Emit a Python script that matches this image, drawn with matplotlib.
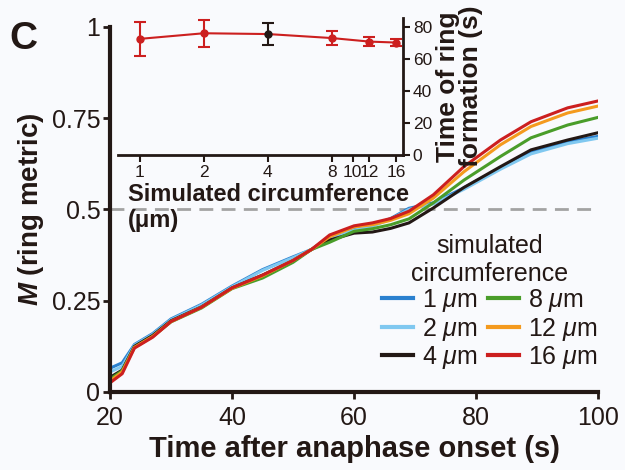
import matplotlib
matplotlib.use("Agg")
from matplotlib import pyplot as plt
import numpy as np

plt.rcParams['font.family'] = ['Liberation Sans', 'DejaVu Sans']
plt.rcParams['mathtext.fontset'] = 'custom'
plt.rcParams['mathtext.it'] = 'Liberation Sans:italic'
plt.rcParams['mathtext.bf'] = 'Liberation Sans:bold:italic'

# %% main curves: M (ring metric) vs time after anaphase onset
time_s = [20, 22, 24, 27, 30, 35, 40, 45, 50, 53, 56, 60, 63, 66, 69, 73, 78, 84, 89, 95, 100]
m_1um = [.065, .080, .130, .160, .200, .240, .290, .335, .370, .390, .425, .445, .456, .475, .503, .518, .559, .614, .658, .685, .700]
m_2um = [.055, .070, .128, .158, .198, .238, .288, .333, .368, .390, .423, .443, .454, .473, .500, .515, .555, .610, .652, .680, .695]
m_4um = [.040, .060, .125, .155, .195, .233, .285, .320, .360, .390, .416, .435, .438, .448, .463, .504, .560, .617, .663, .690, .710]
m_8um = [.035, .058, .122, .152, .192, .230, .283, .312, .355, .390, .410, .440, .447, .458, .474, .518, .580, .645, .696, .731, .752]
m_12um = [.030, .055, .122, .152, .193, .232, .284, .318, .360, .390, .425, .452, .458, .470, .488, .531, .603, .677, .727, .764, .783]
m_16um = [.025, .050, .120, .150, .193, .232, .285, .320, .360, .390, .430, .455, .463, .475, .495, .540, .617, .690, .740, .778, .797]

series_labels = ['1 $\\mu$m', '2 $\\mu$m', '4 $\\mu$m', '8 $\\mu$m', '12 $\\mu$m', '16 $\\mu$m']
series_colors = ['#2a80cf', '#80c8f0', '#231815', '#4a9d2a', '#f49a1e', '#cc1f1f']

# %% inset: time of ring formation vs circumference
circ_um = [1, 2, 4, 8, 12, 16]
ring_time = [72.5, 76.0, 75.5, 73.0, 70.8, 70.2]
ring_err = [10.5, 8.5, 7.0, 4.5, 2.6, 2.0]
point_colors = ['#cc1f1f', '#cc1f1f', '#231815', '#cc1f1f', '#cc1f1f', '#cc1f1f']
inset_ticks = [1, 2, 4, 8, 10, 12, 16]

dark = '#231815'
fig = plt.figure(figsize=(6.25, 4.7), dpi=100, facecolor='#f9fafd')
ax = fig.add_axes([0.176, 0.166, 0.781, 0.777])
ax.patch.set_alpha(0)

for vals, lab, col in zip([m_1um, m_2um, m_4um, m_8um, m_12um, m_16um], series_labels, series_colors):
    ax.plot(time_s, vals, color=col, lw=2.2, label=lab)
ax.axhline(0.5, color='#a3a3a3', lw=2, ls=(0, (5, 3)), zorder=0)

ax.set_xlim(20, 100)
ax.set_ylim(0, 1)
ax.set_xticks([20, 40, 60, 80, 100])
ax.set_yticks([0, 0.25, 0.5, 0.75, 1])
ax.set_yticklabels(['0', '0.25', '0.5', '0.75', '1'])
for s in ['top', 'right']:
    ax.spines[s].set_visible(False)
for s in ['left', 'bottom']:
    ax.spines[s].set_linewidth(3)
    ax.spines[s].set_color(dark)
ax.tick_params(width=2, length=5, color=dark, labelsize=18, labelcolor=dark)
ax.tick_params(axis='x', pad=5)
ax.tick_params(axis='y', pad=2)
ax.set_xlabel('Time after anaphase onset (s)', fontsize=21, fontweight='bold', color=dark, labelpad=4)
ax.set_ylabel('$\\mathbf{M}$ (ring metric)', fontsize=20, fontweight='bold', color=dark, labelpad=4)

leg = ax.legend(ncol=2, loc='lower right', bbox_to_anchor=(1.02, 0.03), frameon=False,
                fontsize=18, title='simulated\ncircumference', title_fontsize=18,
                handlelength=1.25, handletextpad=0.36, columnspacing=0.4, labelspacing=0.06,
                borderaxespad=0)
leg.get_title().set_color(dark)
leg.get_title().set_multialignment('center')
for t in leg.get_texts():
    t.set_color(dark)
for h in leg.legend_handles:
    h.set_linewidth(3)

fig.text(0.015, 0.955, 'C', fontsize=28, fontweight='bold', color=dark, va='top')

# %% inset
ins = fig.add_axes([0.189, 0.670, 0.456, 0.292])
ins.plot(circ_um, ring_time, color='#cc1f1f', lw=1.5)
for x, y, e, c in zip(circ_um, ring_time, ring_err, point_colors):
    ins.errorbar(x, y, yerr=e, fmt='o', color=c, ms=5, capsize=4, elinewidth=1.5, capthick=1.5)
ins.set_xscale('log')
ins.set_xlim(0.79, 17.3)
ins.set_ylim(0, 85.6)
ins.set_xticks(inset_ticks)
ins.set_xticklabels([str(v) for v in inset_ticks])
ins.xaxis.set_minor_locator(matplotlib.ticker.NullLocator())
ins.set_yticks([0, 20, 40, 60, 80])
ins.yaxis.tick_right()
ins.yaxis.set_label_position('right')
for s in ['top', 'left']:
    ins.spines[s].set_visible(False)
for s in ['right', 'bottom']:
    ins.spines[s].set_linewidth(2)
    ins.spines[s].set_color(dark)
ins.patch.set_alpha(0)
ins.tick_params(width=1.5, length=5, color=dark, labelsize=12.5, labelcolor=dark, pad=2)
ins.set_ylabel('Time of ring\nformation (s)', fontsize=19, fontweight='bold', color=dark, labelpad=3,
               linespacing=0.95)
fig.text(0.205, 0.611, 'Simulated circumference\n(\u03bcm)', fontsize=17, fontweight='bold',
         color=dark, va='top', ha='left', linespacing=1.2)

fig.savefig('out.png', dpi=100, facecolor=fig.get_facecolor())
